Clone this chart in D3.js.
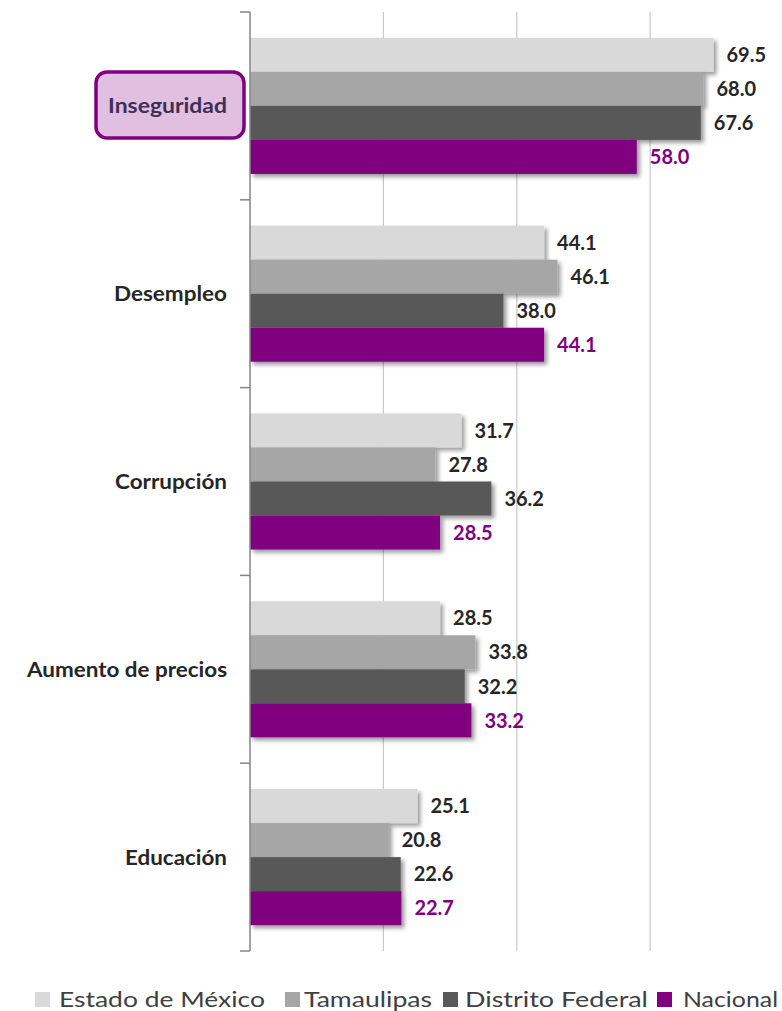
<!DOCTYPE html>
<html><head><meta charset="utf-8">
<script src="https://cdn.jsdelivr.net/npm/d3@7"></script>
<style>
html,body{margin:0;padding:0;background:#fff;}
svg{display:block;}
</style></head>
<body>
<svg id="chart" width="782" height="1011"></svg>
<script>
const categories = ["Inseguridad", "Desempleo", "Corrupción", "Aumento de precios", "Educación"];
const seriesNames = ["Estado de México", "Tamaulipas", "Distrito Federal", "Nacional"];
const estadoMexico = [69.5, 44.1, 31.7, 28.5, 25.1];
const tamaulipas = [68.0, 46.1, 27.8, 33.8, 20.8];
const distritoFederal = [67.6, 38.0, 36.2, 32.2, 22.6];
const nacional = [58.0, 44.1, 28.5, 33.2, 22.7];
const xTicks = [0, 20, 40, 60, 80];

const seriesValues = [estadoMexico, tamaulipas, distritoFederal, nacional];
const colors = ["#d9d9d9", "#a6a6a6", "#595959", "#800080"];
const labelColors = ["#262626", "#262626", "#262626", "#800080"];

const svg = d3.select("#chart");
const defs = svg.append("defs");
const f = defs.append("filter").attr("id","shadow").attr("x","-10%").attr("y","-20%").attr("width","130%").attr("height","160%");
f.append("feDropShadow").attr("dx",3).attr("dy",3).attr("stdDeviation",2).attr("flood-color","#000").attr("flood-opacity",0.4);

const x = d3.scaleLinear().domain([0, 80]).range([250, 783.5]);
const y0 = d3.scaleBand().domain(categories).range([12, 951]).paddingInner(0).paddingOuter(0);
const y1 = d3.scaleBand().domain(seriesNames).range([0, y0.bandwidth()]).paddingInner(0).paddingOuter(0.76);

// gridlines
svg.append("g").selectAll("line").data(xTicks.filter(t => t > 0)).join("line")
  .attr("x1", d => x(d)).attr("x2", d => x(d))
  .attr("y1", 12).attr("y2", 951)
  .attr("stroke", "#c8c8c8").attr("stroke-width", 1.2);

// bars
const groups = svg.append("g").selectAll("g").data(categories).join("g")
  .attr("transform", c => `translate(0,${y0(c)})`);

groups.each(function(c, ci) {
  const g = d3.select(this);
  const data = seriesNames.map((s, si) => ({s, si, v: seriesValues[si][ci]}));
  g.selectAll("rect").data(data).join("rect")
    .attr("x", x(0)).attr("y", d => y1(d.s))
    .attr("width", d => x(d.v) - x(0)).attr("height", y1.bandwidth())
    .attr("fill", d => colors[d.si])
    .attr("filter", "url(#shadow)");
  g.selectAll("text").data(data).join("text")
    .attr("x", d => x(d.v) + 13).attr("y", d => y1(d.s) + y1.bandwidth()/2)
    .attr("dy", "0.36em")
    .attr("font-family", "Lato, 'Open Sans', sans-serif").attr("font-weight", "bold").attr("font-size", 20)
    .attr("fill", d => labelColors[d.si])
    .text(d => d.v.toFixed(1));
});

// y axis
const yAxis = d3.axisLeft(y0).tickSize(0).tickFormat("");
const ya = svg.append("g").attr("transform", `translate(${x(0)},0)`).call(yAxis);
ya.select(".domain").attr("stroke", "#868686").attr("stroke-width", 1.5).attr("d", "M0,12V951");
const bounds = categories.map(c => y0(c)).concat([y0(categories[categories.length-1]) + y0.bandwidth()]);
svg.append("g").selectAll("line").data(bounds).join("line")
  .attr("x1", x(0) - 10).attr("x2", x(0)).attr("y1", d => d).attr("y2", d => d)
  .attr("stroke", "#868686").attr("stroke-width", 1.5);

// highlight box for first category
const c0 = categories[0];
svg.append("rect").attr("x", 96).attr("y", y0(c0) + y0.bandwidth()/2 - 34)
  .attr("width", 148).attr("height", 66).attr("rx", 11)
  .attr("fill", "#e0bfe0").attr("stroke", "#800080").attr("stroke-width", 3.5);

// category labels
const catWidths = [119, 113, 112, 200, 102];
svg.append("g").selectAll("text").data(categories).join("text")
  .attr("x", 227).attr("y", c => y0(c) + y0.bandwidth()/2)
  .attr("dy", "0.36em").attr("text-anchor", "end")
  .attr("font-family", "Lato, 'Open Sans', sans-serif").attr("font-weight", "bold").attr("font-size", 21)
  .attr("fill", (c, i) => i === 0 ? "#3f2f55" : "#262626")
  .attr("textLength", (c, i) => catWidths[i]).attr("lengthAdjust", "spacingAndGlyphs")
  .text(c => c);

// legend
const legendSq = [35, 285, 443, 657];
const legendTx = [59, 304, 465, 683];
const legendW = [206, 128, 183, 95];
const leg = svg.append("g");
leg.selectAll("rect").data(seriesNames).join("rect")
  .attr("x", (d, i) => legendSq[i]).attr("y", 992).attr("width", 15).attr("height", 15)
  .attr("fill", (d, i) => colors[i]);
leg.selectAll("text").data(seriesNames).join("text")
  .attr("x", (d, i) => legendTx[i]).attr("y", 1007)
  .attr("font-family", "Lato, 'Open Sans', sans-serif").attr("font-size", 22)
  .attr("fill", "#404040")
  .attr("textLength", (d, i) => legendW[i]).attr("lengthAdjust", "spacingAndGlyphs")
  .text(d => d);
</script>
</body></html>
